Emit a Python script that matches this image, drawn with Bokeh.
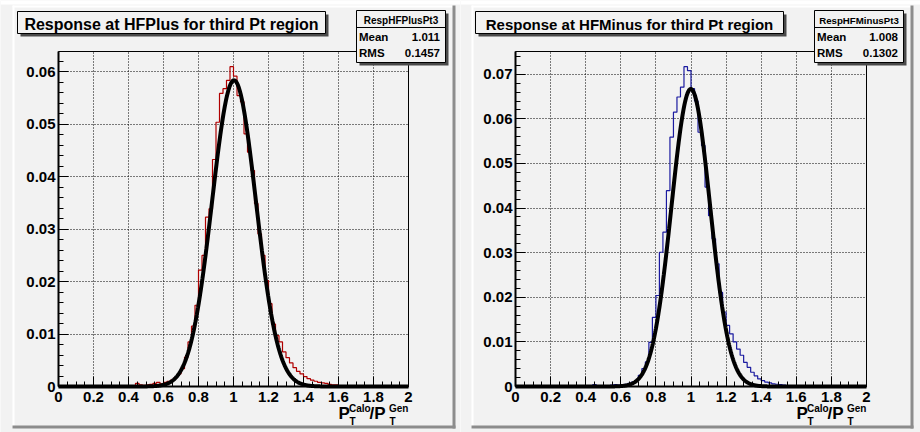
import numpy as np
from bokeh.plotting import figure
from bokeh.layouts import row
from bokeh.models import (Range1d, SingleIntervalTicker, CustomJSTickFormatter,
                          BoxAnnotation, Label)
from bokeh.embed import file_html
from bokeh.resources import INLINE

# ---------------- data ----------------
bin_width = 0.02
first_bin = 0.40          # left edge of the first listed bin
x_min, x_max = 0.0, 2.0

plus_values = [0.0000, 0.0000, 0.0006, 0.0003, 0.0002, 0.0003, 0.0004, 0.0006,
               0.0008, 0.0005, 0.0008, 0.0010, 0.0012, 0.0017, 0.0024, 0.0034,
               0.0056, 0.0085, 0.0115, 0.0155, 0.0222, 0.0250, 0.0323, 0.0339,
               0.0433, 0.0504, 0.0559, 0.0568, 0.0584, 0.0610, 0.0592, 0.0555,
               0.0543, 0.0482, 0.0447, 0.0412, 0.0349, 0.0291, 0.0250, 0.0202,
               0.0158, 0.0119, 0.0097, 0.0085, 0.0066, 0.0055, 0.0045, 0.0036,
               0.0029, 0.0024, 0.0019, 0.0015, 0.0012, 0.0010, 0.0008, 0.0007,
               0.0006, 0.0004, 0.0003, 0.0003, 0.0001, 0.0000]

minus_values = [0.0000, 0.0000, 0.0004, 0.0001, 0.0002, 0.0002, 0.0002, 0.0003,
                0.0004, 0.0003, 0.0004, 0.0005, 0.0007, 0.0010, 0.0014, 0.0025,
                0.0040, 0.0055, 0.0099, 0.0155, 0.0204, 0.0301, 0.0346, 0.0439,
                0.0559, 0.0615, 0.0649, 0.0671, 0.0717, 0.0708, 0.0668, 0.0640,
                0.0570, 0.0540, 0.0447, 0.0383, 0.0331, 0.0275, 0.0211, 0.0167,
                0.0137, 0.0118, 0.0100, 0.0084, 0.0070, 0.0054, 0.0043, 0.0032,
                0.0024, 0.0017, 0.0013, 0.0010, 0.0008, 0.0006, 0.0005, 0.0004,
                0.0003, 0.0002, 0.0001, 0.0000]

# gaussian fit parameters (constant, mean, sigma)
plus_fit = (0.0584, 1.003, 0.125)
minus_fit = (0.0667, 0.999, 0.110)

plus_title = "Response at HFPlus for third Pt region"
minus_title = "Response at HFMinus for third Pt region"
plus_stats = ("RespHFPlusPt3", "1.011", "0.1457")
minus_stats = ("RespHFMinusPt3", "1.008", "0.1302")
stat_names = ("Mean", "RMS")

plus_ymax = 0.0639
minus_ymax = 0.0751

x_tick_step, x_minor = 0.2, 4
y_tick_step, y_minor = 0.01, 5

# ---------------- styling / layout ----------------
BG = "#f2f2f2"
FONT = "Liberation Sans"
FIG_W, FIG_H = 460, 432
FRAME_TOP, FRAME_BOTTOM = 51, 386      # page pixels of y=ymax and y=0


def make_panel(fig_x, frame_l, frame_r, values, color, fit, ymax,
               title, title_size, stats, stats_title_size, pad_x0, pad_x1,
               tbox_x0, sbox_x0):
    fig_y = 0
    kx = (frame_r - frame_l) / (x_max - x_min)          # px per unit
    ky = (FRAME_BOTTOM - FRAME_TOP) / ymax
    xr = Range1d(x_min - (frame_l - fig_x) / kx, x_max + (fig_x + FIG_W - frame_r) / kx)
    yr = Range1d(-(fig_y + FIG_H - FRAME_BOTTOM) / ky, ymax + (FRAME_TOP - fig_y) / ky)

    p = figure(width=FIG_W, height=FIG_H, x_range=xr, y_range=yr,
               output_backend="svg", toolbar_location=None, title=None,
               min_border=0, min_border_left=0, min_border_right=0,
               min_border_top=0, min_border_bottom=0)
    p.background_fill_color = BG
    p.border_fill_color = BG
    p.outline_line_color = None

    # page -> screen helpers (frame == whole figure, y up)
    def sx(X):
        return X - fig_x

    def sy(Y):
        return fig_y + FIG_H - Y

    def box(x0, y0, x1, y1, fill, line=None, lw=1, level="annotation"):
        p.add_layout(BoxAnnotation(
            left=sx(x0), right=sx(x1), top=sy(y0), bottom=sy(y1),
            left_units="screen", right_units="screen",
            top_units="screen", bottom_units="screen",
            fill_color=fill, fill_alpha=1.0,
            line_color=line if line else fill, line_alpha=1.0 if line else 0.0,
            line_width=lw, level=level))

    def text(X, Y, t, size, align="left"):
        # Y is the page baseline; anchor the middle of the em box
        px = float(size.replace("px", ""))
        p.add_layout(Label(x=sx(X), y=sy(Y - 0.35 * px), x_units="screen", y_units="screen",
                           text=t, text_font=FONT, text_font_style="bold",
                           text_font_size=size, text_color="black",
                           text_align=align, text_baseline="middle"))

    # canvas / pad bevels (drawn under everything)
    box(fig_x, 0, fig_x + FIG_W, 4, "#ffffff", level="underlay")
    box(pad_x0, 5, pad_x1, 7, "#ffffff", level="underlay")
    box(pad_x0, 5, pad_x0 + 2, 428, "#ffffff", level="underlay")
    box(pad_x0, 425, pad_x1, 428, "#8c8c8c", level="underlay")
    box(pad_x1 - 3, 5, pad_x1, 428, "#8c8c8c", level="underlay")

    # axes fixed at the data origin
    for ax, step, nminor, digits, bnds in ((p.xaxis[0], x_tick_step, x_minor, 2, (x_min, x_max)),
                                           (p.yaxis[0], y_tick_step, y_minor, 3, (0, ymax))):
        ax.fixed_location = 0
        ax.bounds = bnds
        ax.ticker = SingleIntervalTicker(interval=step, num_minor_ticks=nminor)
        ax.formatter = CustomJSTickFormatter(
            code="return String(parseFloat(tick.toFixed(%d)));" % digits)
        ax.axis_line_width = 2
        ax.axis_line_color = "black"
        ax.major_tick_in = 10
        ax.major_tick_out = 0
        ax.minor_tick_in = 5
        ax.minor_tick_out = 0
        ax.major_tick_line_color = "black"
        ax.minor_tick_line_color = "black"
        ax.major_label_text_font = FONT
        ax.major_label_text_font_style = "bold"
        ax.major_label_text_font_size = "15px"
        ax.major_label_text_color = "black"
    p.xaxis.major_label_standoff = 5
    p.yaxis.major_label_standoff = 3

    # grid lines (dotted) limited to the frame
    use_cross = hasattr(p.xgrid[0], "cross_bounds")
    if use_cross:
        p.xgrid[0].cross_bounds = (0, ymax)
        p.ygrid[0].cross_bounds = (x_min, x_max)
        for g in (p.xgrid, p.ygrid):
            g.grid_line_color = "black"
            g.grid_line_dash = "1 2"
            g.grid_line_width = 1
    else:
        p.xgrid.visible = False
        p.ygrid.visible = False
        gx = np.arange(x_min + x_tick_step, x_max - 1e-9, x_tick_step)
        gy = np.arange(y_tick_step, ymax, y_tick_step)
        p.segment(x0=gx, y0=np.zeros_like(gx), x1=gx, y1=np.full_like(gx, ymax),
                  line_color="black", line_dash="1 2", line_width=1)
        p.segment(x0=np.full_like(gy, x_min), y0=gy, x1=np.full_like(gy, x_max), y1=gy,
                  line_color="black", line_dash="1 2", line_width=1)

    # frame outline (top / right visible)
    p.quad(left=[x_min], right=[x_max], bottom=[0], top=[ymax],
           fill_alpha=0, line_color="black", line_width=1)

    # histogram outline
    vals = np.asarray(values, dtype=float)
    edges = first_bin + bin_width * np.arange(len(vals) + 1)
    hx = np.concatenate([[x_min], np.repeat(edges, 2), [x_max]])
    hy = np.concatenate([[0.0, 0.0], np.repeat(vals, 2), [0.0, 0.0]])
    p.line(hx, hy, line_color=color, line_width=1.2)

    # gaussian fit curve
    c, m, s = fit
    fx = np.linspace(x_min, x_max, 801)
    fy = c * np.exp(-0.5 * ((fx - m) / s) ** 2)
    p.line(fx, fy, line_color="black", line_width=4)

    # title box with shadow
    box(tbox_x0 + 3, 14, tbox_x0 + 311, 36, "#4a4a4a")
    box(tbox_x0, 11, tbox_x0 + 308, 33, BG, "black", 1)
    text(tbox_x0 + 154, 29.3, title, title_size, "center")

    # stats box with shadow
    sx0, sx1 = sbox_x0, sbox_x0 + 89
    box(sx0 + 3, 13, sx1 + 3, 65, "#4a4a4a")
    box(sx0, 10, sx1, 62, BG, "black", 1)
    box(sx0, 26.5, sx1, 27.5, "black")
    name, mean_s, rms_s = stats
    text((sx0 + sx1) / 2, 23, name, stats_title_size, "center")
    text(sx0 + 2.5, 40.7, stat_names[0], "11.5px")
    text(sx1 - 5.5, 40.7, mean_s, "11.5px", "right")
    text(sx0 + 2.5, 57, stat_names[1], "11.5px")
    text(sx1 - 5.5, 57, rms_s, "11.5px", "right")

    # x-axis title  P_T^Calo / P_T^Gen (right aligned to the end of the axis)
    ax_x = frame_r - 70
    text(ax_x, 419, "P", "17px")
    text(ax_x + 10.5, 411.5, "Calo", "10px")
    text(ax_x + 11, 424, "T", "10px")
    text(ax_x + 31, 419, "/P", "17px")
    text(ax_x + 50.5, 411.5, "Gen", "10px")
    text(ax_x + 51, 424, "T", "10px")
    return p


p1 = make_panel(0, 58, 408, plus_values, "#b00000", plus_fit, plus_ymax,
                plus_title, "16px", plus_stats, "10px", 12, 455, 17, 356)
p2 = make_panel(460, 515, 866, minus_values, "#1a1aa0", minus_fit, minus_ymax,
                minus_title, "15px", minus_stats, "9.7px", 471, 913, 475, 814)

layout = row(p1, p2)
open("out.html", "w").write(file_html(layout, INLINE))
